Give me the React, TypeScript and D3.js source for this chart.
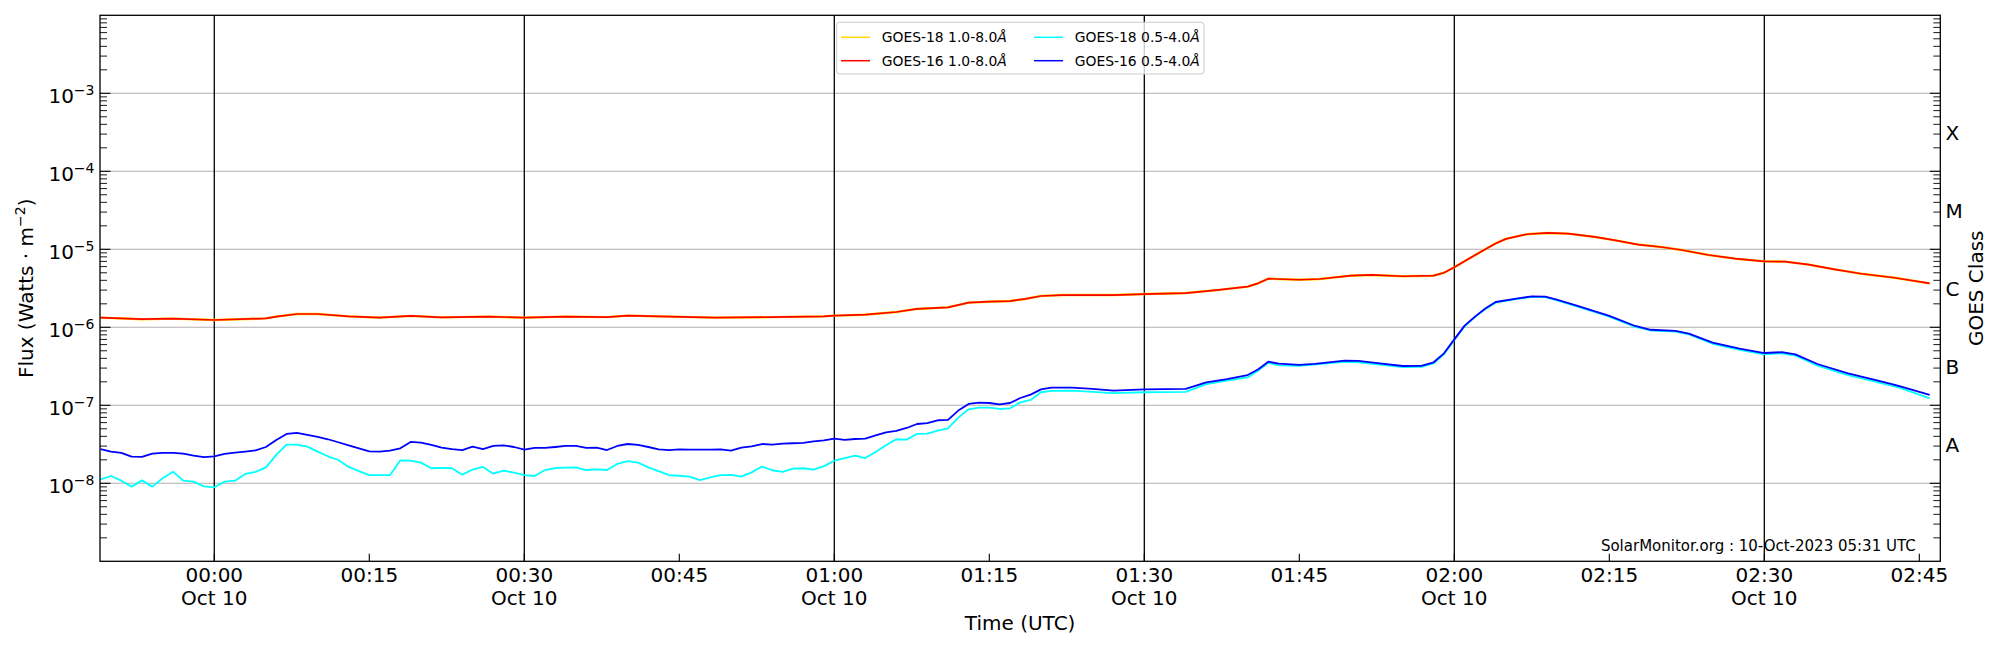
import React from 'react';
import * as d3 from 'd3';

// minutes after 2023-10-10 00:00 UTC, flux in W m^-2
const goes16Long: [number, number][] = [
  [-11, 1.33e-6], [-7, 1.27e-6], [-4, 1.29e-6], [0, 1.24e-6], [5, 1.3e-6], [6, 1.37e-6], [8, 1.48e-6],
  [10, 1.48e-6], [13, 1.38e-6], [16, 1.33e-6], [19, 1.4e-6], [22, 1.34e-6], [26.5, 1.37e-6], [30, 1.33e-6],
  [34, 1.37e-6], [38, 1.35e-6], [40, 1.41e-6], [43, 1.38e-6], [48.5, 1.33e-6], [54, 1.35e-6], [59, 1.38e-6],
  [60, 1.41e-6], [63, 1.45e-6], [66, 1.57e-6], [68, 1.72e-6], [71, 1.8e-6], [73, 2.07e-6], [75, 2.13e-6],
  [77, 2.17e-6], [78.5, 2.31e-6], [80, 2.52e-6], [82, 2.59e-6], [87, 2.59e-6], [90, 2.67e-6], [94, 2.75e-6],
  [97, 3.0e-6], [100, 3.32e-6], [101, 3.66e-6], [102, 4.2e-6], [105, 4.07e-6], [107, 4.16e-6], [110, 4.59e-6],
  [112, 4.69e-6], [115, 4.51e-6], [118, 4.59e-6], [119, 5.0e-6], [120, 5.88e-6], [121.4, 7.58e-6], [123, 1.0e-5],
  [124, 1.19e-5], [125, 1.36e-5], [127, 1.56e-5], [129, 1.62e-5], [131, 1.59e-5], [133.6, 1.44e-5], [135.6, 1.3e-5],
  [137.8, 1.15e-5], [140, 1.07e-5], [142, 9.8e-6], [144.6, 8.45e-6], [147.2, 7.58e-6], [150, 7.0e-6], [152, 6.95e-6],
  [154.3, 6.35e-6], [156.8, 5.53e-6], [159.4, 4.86e-6], [162.6, 4.32e-6], [166, 3.66e-6],
];

// GOES-18 long channel sits right under the GOES-16 one in the picture
const goes18Long: [number, number][] = goes16Long;

const goes16Short: [number, number][] = [
  [-11, 2.75e-8], [-10, 2.55e-8], [-9, 2.45e-8], [-8, 2.2e-8], [-7, 2.18e-8], [-6, 2.4e-8], [-5, 2.45e-8],
  [-4, 2.45e-8], [-3, 2.4e-8], [-2, 2.26e-8], [-1, 2.16e-8], [0, 2.22e-8], [1, 2.38e-8], [2, 2.47e-8],
  [3, 2.55e-8], [4, 2.65e-8], [5, 2.92e-8], [6, 3.6e-8], [7, 4.29e-8], [8, 4.42e-8], [9, 4.17e-8],
  [10, 3.93e-8], [11, 3.67e-8], [12, 3.36e-8], [13, 3.07e-8], [14, 2.81e-8], [15, 2.57e-8], [16, 2.55e-8],
  [17, 2.63e-8], [18, 2.81e-8], [19, 3.39e-8], [20, 3.32e-8], [21, 3.1e-8], [22, 2.86e-8], [23, 2.75e-8],
  [24, 2.67e-8], [25, 2.95e-8], [26, 2.75e-8], [27, 3.01e-8], [28, 3.07e-8], [29, 2.92e-8], [30, 2.7e-8],
  [31, 2.84e-8], [32, 2.84e-8], [33, 2.92e-8], [34, 3.01e-8], [35, 3.01e-8], [36, 2.84e-8], [37, 2.86e-8],
  [38, 2.67e-8], [39, 3.01e-8], [40, 3.19e-8], [41, 3.1e-8], [42, 2.92e-8], [43, 2.73e-8], [44, 2.67e-8],
  [45, 2.73e-8], [46, 2.7e-8], [47, 2.7e-8], [48, 2.7e-8], [49, 2.73e-8], [50, 2.63e-8], [51, 2.86e-8],
  [52, 2.98e-8], [53, 3.19e-8], [54, 3.14e-8], [55, 3.23e-8], [56, 3.26e-8], [57, 3.29e-8], [58, 3.45e-8],
  [59, 3.55e-8], [60, 3.74e-8], [61, 3.6e-8], [62, 3.7e-8], [63, 3.74e-8], [64, 4.12e-8], [65, 4.51e-8],
  [66, 4.69e-8], [67, 5.12e-8], [68, 5.76e-8], [69, 5.9e-8], [70, 6.43e-8], [71, 6.5e-8], [72, 8.55e-8],
  [73, 1.04e-7], [74, 1.08e-7], [75, 1.07e-7], [76, 1.03e-7], [77, 1.07e-7], [78, 1.24e-7], [79, 1.37e-7],
  [80, 1.6e-7], [81, 1.69e-7], [83, 1.69e-7], [85, 1.62e-7], [87, 1.54e-7], [90, 1.6e-7], [94, 1.62e-7],
  [96, 1.97e-7], [98, 2.17e-7], [100, 2.44e-7], [101, 2.88e-7], [102, 3.62e-7], [103, 3.42e-7], [105, 3.29e-7],
  [106.5, 3.39e-7], [109.4, 3.73e-7], [110.7, 3.71e-7], [113, 3.42e-7], [115, 3.19e-7], [116.8, 3.2e-7],
  [118, 3.56e-7], [119, 4.64e-7], [120, 7.0e-7], [121, 1.05e-6], [122, 1.37e-6], [123, 1.74e-6], [124, 2.11e-6],
  [126, 2.33e-6], [127.5, 2.49e-6], [128.8, 2.48e-6], [130, 2.24e-6], [132, 1.87e-6], [135, 1.4e-6],
  [137.5, 1.04e-6], [139, 9.3e-7], [141.4, 9.0e-7], [142.7, 8.3e-7], [145, 6.35e-7], [147.6, 5.32e-7],
  [150, 4.68e-7], [151.7, 4.8e-7], [153, 4.5e-7], [155.2, 3.36e-7], [158.1, 2.57e-7], [161, 2.07e-7],
  [163, 1.78e-7], [166, 1.36e-7],
];

const goes18Short: [number, number][] = [
  [-11, 1.12e-8], [-10, 1.24e-8], [-9, 1.08e-8], [-8, 9.06e-9], [-7, 1.09e-8], [-6, 9.06e-9], [-5, 1.16e-8],
  [-4, 1.41e-8], [-3, 1.08e-8], [-2, 1.05e-8], [-1, 9.15e-9], [0, 8.89e-9], [1, 1.05e-8], [2, 1.08e-8],
  [3, 1.32e-8], [4, 1.4e-8], [5, 1.6e-8], [6, 2.31e-8], [7, 3.13e-8], [8, 3.13e-8], [9, 2.95e-8],
  [10, 2.55e-8], [11, 2.22e-8], [12, 1.99e-8], [13, 1.62e-8], [14, 1.43e-8], [15, 1.27e-8], [16, 1.27e-8],
  [17, 1.27e-8], [18, 1.97e-8], [19, 1.95e-8], [20, 1.84e-8], [21, 1.56e-8], [22, 1.58e-8], [23, 1.56e-8],
  [24, 1.29e-8], [25, 1.5e-8], [26, 1.62e-8], [27, 1.33e-8], [28, 1.45e-8], [29, 1.37e-8], [30, 1.27e-8],
  [31, 1.24e-8], [32, 1.48e-8], [33, 1.57e-8], [34, 1.59e-8], [35, 1.6e-8], [36, 1.48e-8], [37, 1.51e-8],
  [38, 1.48e-8], [39, 1.77e-8], [40, 1.93e-8], [41, 1.84e-8], [42, 1.6e-8], [43, 1.43e-8], [44, 1.27e-8],
  [45, 1.25e-8], [46, 1.22e-8], [47, 1.1e-8], [48, 1.19e-8], [49, 1.27e-8], [50, 1.28e-8], [51, 1.22e-8],
  [52, 1.38e-8], [53, 1.64e-8], [54, 1.47e-8], [55, 1.4e-8], [56, 1.54e-8], [57, 1.56e-8], [58, 1.5e-8],
  [59, 1.66e-8], [60, 1.95e-8], [61, 2.11e-8], [62, 2.26e-8], [63, 2.11e-8], [64, 2.52e-8], [65, 3.07e-8],
  [66, 3.67e-8], [67, 3.63e-8], [68, 4.29e-8], [69, 4.33e-8], [70, 4.73e-8], [71, 5.07e-8], [72, 6.95e-8],
  [73, 8.89e-8], [74, 9.33e-8], [75, 9.33e-8], [76, 8.97e-8], [77, 9.15e-8], [78, 1.09e-7], [79, 1.17e-7],
  [80, 1.47e-7], [81, 1.53e-7], [83, 1.54e-7], [87, 1.43e-7], [90, 1.47e-7], [94, 1.49e-7], [96, 1.87e-7],
  [98, 2.08e-7], [100, 2.28e-7], [101, 2.78e-7], [102, 3.5e-7], [103, 3.25e-7], [105, 3.2e-7], [109.4, 3.6e-7],
  [110.7, 3.56e-7], [113, 3.29e-7], [115, 3.08e-7], [116.8, 3.1e-7], [118, 3.44e-7], [119, 4.5e-7],
  [120, 6.87e-7], [121, 1.03e-6], [122, 1.35e-6], [123, 1.71e-6], [124, 2.07e-6], [126, 2.3e-6],
  [127.5, 2.45e-6], [128.8, 2.44e-6], [130, 2.2e-6], [132, 1.83e-6], [135, 1.37e-6], [137.5, 1.01e-6],
  [139, 9.1e-7], [141.4, 8.8e-7], [142.7, 8.1e-7], [145, 6.15e-7], [147.6, 5.15e-7], [150, 4.5e-7],
  [151.7, 4.65e-7], [153, 4.35e-7], [155.2, 3.2e-7], [158.1, 2.43e-7], [161, 1.97e-7], [163, 1.7e-7],
  [166, 1.23e-7],
];

const series = [
  { name: 'GOES-18 1.0-8.0', color: '#ffd700', width: 2.4, data: goes18Long },
  { name: 'GOES-16 1.0-8.0', color: '#ff0000', width: 1.7, data: goes16Long },
  { name: 'GOES-18 0.5-4.0', color: '#00ffff', width: 1.8, data: goes18Short },
  { name: 'GOES-16 0.5-4.0', color: '#0000ff', width: 1.8, data: goes16Short },
];

const decadeTicks = [1e-8, 1e-7, 1e-6, 1e-5, 1e-4, 1e-3];
const classNames = ['A', 'B', 'C', 'M', 'X'];
const classLevels = [3.162e-8, 3.162e-7, 3.162e-6, 3.162e-5, 3.162e-4];
const stamp = 'SolarMonitor.org : 10-Oct-2023 05:31 UTC';

const T0 = Date.UTC(2023, 9, 10, 0, 0);
const at = (m: number) => new Date(T0 + m * 60000);
const FONT = 'DejaVu Sans, sans-serif';

export default function App() {
  const left = 100, right = 1940.3, top = 15.3, bottom = 561.3;

  const x = d3.scaleUtc().domain([at(-11.06), at(167.03)]).range([left, right]);
  const y = d3.scaleLog().domain([1e-9, 1e-2]).range([bottom, top]);

  const line = d3.line<[number, number]>()
    .x(d => x(at(d[0])))
    .y(d => y(d[1]));

  const xTicks = x.ticks(d3.utcMinute.every(15)!);
  const halfHours = xTicks.filter(d => d.getUTCMinutes() % 30 === 0);
  const minorY = y.ticks().filter(v => !decadeTicks.includes(v) && v > 1e-9 && v < 1e-2);
  const fmtTime = d3.utcFormat('%H:%M');
  const fmtDay = d3.utcFormat('%b %d');

  return (
    <svg width={2000} height={650} style={{ position: 'absolute', left: 0, top: 0, background: '#fff' }}
      fontFamily={FONT}>
      <defs>
        <clipPath id="plot">
          <rect x={left} y={top} width={right - left} height={bottom - top} />
        </clipPath>
      </defs>

      {/* horizontal grid */}
      {decadeTicks.map(v => (
        <line key={v} x1={left} x2={right} y1={y(v)} y2={y(v)} stroke="#b0b0b0" strokeWidth={1.1} />
      ))}
      {/* half-hour markers */}
      {halfHours.map(d => (
        <line key={+d} x1={x(d)} x2={x(d)} y1={top} y2={bottom} stroke="#000" strokeWidth={1.3} />
      ))}

      <g clipPath="url(#plot)">
        {series.map(s => (
          <path key={s.name} d={line(s.data) ?? ''} fill="none" stroke={s.color}
            strokeWidth={s.width} strokeLinejoin="round" />
        ))}
      </g>

      {/* frame */}
      <rect x={left} y={top} width={right - left} height={bottom - top} fill="none" stroke="#000" strokeWidth={1.3} />

      {/* y ticks, left and right */}
      {decadeTicks.map(v => (
        <g key={'M' + v}>
          <line x1={left} x2={left + 10.5} y1={y(v)} y2={y(v)} stroke="#000" strokeWidth={1.1} />
          <line x1={right} x2={right - 10.5} y1={y(v)} y2={y(v)} stroke="#000" strokeWidth={1.1} />
          <text x={94.5} y={y(v) + 10} fontSize={20} textAnchor="end">
            10<tspan fontSize={14} dy={-8.5}>{'\u2212' + Math.round(-Math.log10(v))}</tspan>
          </text>
        </g>
      ))}
      {minorY.map(v => (
        <g key={'m' + v}>
          <line x1={left} x2={left + 7} y1={y(v)} y2={y(v)} stroke="#000" strokeWidth={0.9} />
          <line x1={right} x2={right - 7} y1={y(v)} y2={y(v)} stroke="#000" strokeWidth={0.9} />
        </g>
      ))}

      {/* x ticks */}
      {xTicks.map(d => (
        <g key={'x' + +d}>
          <line x1={x(d)} x2={x(d)} y1={bottom} y2={bottom - 7.5} stroke="#000" strokeWidth={1.1} />
          <text x={x(d)} y={581.7} fontSize={20} textAnchor="middle">{fmtTime(d)}</text>
          {d.getUTCMinutes() % 30 === 0 && (
            <text x={x(d)} y={605} fontSize={20} textAnchor="middle">{fmtDay(d)}</text>
          )}
        </g>
      ))}

      {/* GOES classes */}
      {classNames.map((c, i) => (
        <text key={c} x={1945.5} y={y(classLevels[i]) + 7.3} fontSize={20}>{c}</text>
      ))}

      {/* axis titles */}
      <text transform={`translate(32.5,${(top + bottom) / 2}) rotate(-90)`} fontSize={20} textAnchor="middle">
        Flux (Watts · m<tspan fontSize={14} dy={-8}>{'\u22122'}</tspan><tspan dy={8}>)</tspan>
      </text>
      <text transform={`translate(1983,${(top + bottom) / 2}) rotate(-90)`} fontSize={20} textAnchor="middle">
        GOES Class
      </text>
      <text x={(left + right) / 2} y={629.5} fontSize={20} textAnchor="middle">Time (UTC)</text>

      <text x={1915.7} y={551} fontSize={15} textAnchor="end">{stamp}</text>

      {/* legend */}
      <g>
        <rect x={836.7} y={22.3} width={367.3} height={51.7} rx={3} fill="#fff" fillOpacity={0.8}
          stroke="#cccccc" strokeWidth={1} />
        {series.map((s, i) => {
          const col = Math.floor(i / 2), row = i % 2;
          const lx = col === 0 ? 841 : 1034;
          const ly = row === 0 ? 37.3 : 60.7;
          return (
            <g key={'l' + s.name}>
              <line x1={lx} x2={lx + 29} y1={ly} y2={ly} stroke={s.color} strokeWidth={1.5} />
              <text x={lx + 40.7} y={ly + 5} fontSize={13.9}>
                {s.name}<tspan fontStyle="italic">Å</tspan>
              </text>
            </g>
          );
        })}
      </g>
    </svg>
  );
}
